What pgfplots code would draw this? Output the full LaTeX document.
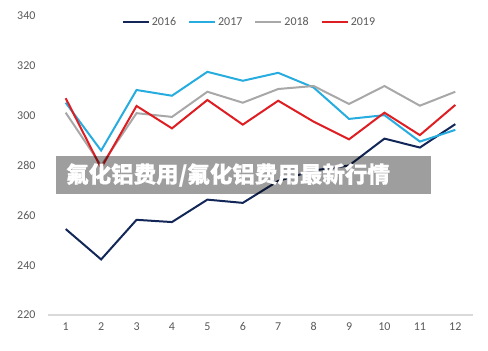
\documentclass[border=0pt]{standalone}
\usepackage{pgfplots}
\pgfplotsset{compat=1.18}
\usepackage{fontspec}
\setmainfont{Carlito}
\newfontfamily\cjk{Noto Sans CJK SC}[BoldFeatures={FakeBold=0.3}]

\definecolor{cNavy}{RGB}{18,38,88}
\definecolor{cCyan}{RGB}{38,172,222}
\definecolor{cGrey}{RGB}{168,168,168}
\definecolor{cRed}{RGB}{222,30,34}
\definecolor{cTick}{RGB}{89,89,89}
\definecolor{cAxis}{RGB}{217,217,217}

\begin{document}
\begin{tikzpicture}
\path[use as bounding box] (-48bp,-36bp) rectangle (440bp,315bp);
\begin{axis}[
  at={(0,0)}, anchor=south west,
  scale only axis,
  width=425bp, height=299bp,
  xmin=0.5, xmax=12.5,
  ymin=220, ymax=340,
  xtick={1,...,12},
  ytick={220,240,...,340},
  tick style={draw=none},
  axis line style={draw=none},
  axis x line*=bottom,
  axis y line*=left,
  font=\fontsize{12bp}{14bp}\selectfont,
  tick label style={text=cTick},
  /pgf/number format/assume math mode=true,
  yticklabel style={xshift=-9bp},
  xticklabel style={yshift=-4bp},
  clip=false,
  legend columns=4,
  legend style={draw=none, fill=none, at={(0.474,0.98)}, anchor=center,
    /tikz/every even column/.append style={column sep=10bp},
    font=\fontsize{12bp}{14bp}\selectfont, text=cTick},
  legend image code/.code={\draw[#1, line width=2bp] (0bp,0bp) -- (26bp,0bp);},
  every axis plot/.append style={line width=2bp, line join=miter, mark=none},
]
% bottom axis line
\draw[cAxis, line width=1.2bp] (axis cs:0.5,220) -- (axis cs:12.5,220);

\addplot[cNavy] coordinates {
  (1,254.5) (2,242.3) (3,258.2) (4,257.3) (5,266.3) (6,265.0)
  (7,273.8) (8,278.0) (9,280.0) (10,290.8) (11,287.2) (12,296.6)};
\addlegendentry{2016}
\addplot[cCyan] coordinates {
  (1,305.2) (2,286.0) (3,310.3) (4,308.0) (5,317.6) (6,314.0)
  (7,317.2) (8,311.3) (9,298.7) (10,300.2) (11,289.6) (12,294.3)};
\addlegendentry{2017}
\addplot[cGrey] coordinates {
  (1,301.2) (2,280.0) (3,301.0) (4,299.5) (5,309.6) (6,305.2)
  (7,310.7) (8,311.9) (9,304.7) (10,311.9) (11,304.0) (12,309.6)};
\addlegendentry{2018}
\addplot[cRed] coordinates {
  (1,307.0) (2,279.0) (3,303.9) (4,294.9) (5,306.3) (6,296.4)
  (7,306.0) (8,297.6) (9,290.5) (10,301.2) (11,292.2) (12,304.3)};
\addlegendentry{2019}
\end{axis}

% caption banner across the plot
\fill[black, opacity=0.38] (8bp,121bp) rectangle (383bp,159bp);
\node[anchor=west, text=white, inner sep=0pt, font=\cjk\bfseries\fontsize{22.5bp}{24bp}\selectfont]
  at (18bp,140bp) {氟化铝费用/氟化铝费用最新行情};
\end{tikzpicture}
\end{document}
